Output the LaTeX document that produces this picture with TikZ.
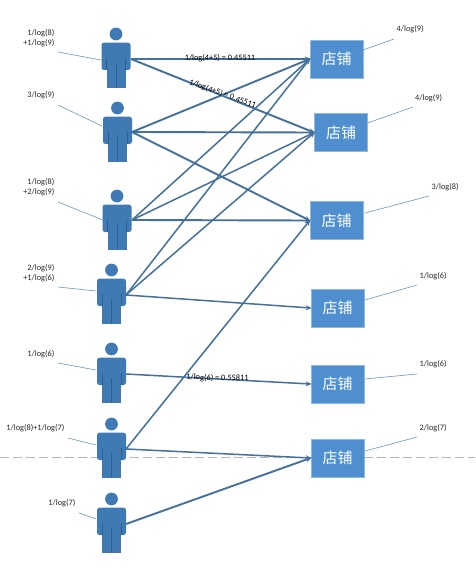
\documentclass[tikz,border=0pt]{standalone}
\usepackage{fontspec}
\setmainfont{Carlito}
\newfontfamily\cjkfont{Noto Sans CJK SC}
\usetikzlibrary{arrows.meta}
\definecolor{figblue}{HTML}{3F7AB5}
\definecolor{figline}{HTML}{2F5F8F}
\definecolor{storeblue}{HTML}{4F8FD0}
\definecolor{storeedge}{HTML}{8FB8DE}
\definecolor{edgeblue}{HTML}{44709D}
\definecolor{leadblue}{HTML}{6E96B8}
\definecolor{dashgray}{HTML}{B4B4B4}
\tikzset{
  personfig/.pic={
    \fill[figblue] (0,0) circle[radius=6.4];
    \fill[figblue,rounded corners=2.5pt] (-14.5,36) -- (-14.5,8.7) -- (14.5,8.7) -- (14.5,36) -- cycle;
    \fill[figblue] (-9.5,20) rectangle (9.5,54);
    \draw[figline,line width=0.4pt] (0,29) -- (0,54) (-9.5,24) -- (-9.5,36) (9.5,24) -- (9.5,36);
  },
  storebox/.style={draw=storeedge,line width=0.6pt,fill=storeblue,text=white,minimum width=53pt,minimum height=38pt,inner sep=0pt,font=\cjkfont\fontsize{15}{18}\selectfont},
  linkline/.style={draw=edgeblue,line width=1.9pt,-{Stealth[length=6pt,width=5pt]},shorten >=-1pt},
  steepline/.style={linkline,line width=1.5pt},
  leadline/.style={draw=leadblue,line width=0.6pt},
  lab/.style={text=black!85,inner sep=0pt,font=\fontsize{8.3}{10}\selectfont},
  midlab/.style={lab,text=black},
  cutline/.style={draw=dashgray,line width=0.7pt,dash pattern=on 9pt off 4pt}
}
\begin{document}
\begin{tikzpicture}[x=1pt,y=-1pt]
\useasboundingbox[fill=white] (0,0) rectangle (475,578);
% dashed cut
\coordinate (cutL) at (0,457.5);
\coordinate (cutR) at (475,457.5);
\draw[cutline] (cutL) -- (cutR);
% people
\pic at (116,34) {personfig};
\pic at (117.5,108) {personfig};
\pic at (117,196) {personfig};
\pic at (111.5,270) {personfig};
\pic at (111.5,349) {personfig};
\pic at (111.5,424) {personfig};
\pic at (111.5,499) {personfig};
\coordinate (p1) at (131,59);
\coordinate (p2) at (132,132);
\coordinate (p3) at (132,220);
\coordinate (p4) at (126,295);
\coordinate (p5) at (126,374);
\coordinate (p6) at (126,449);
\coordinate (p7) at (126,524);
% stores
\node[storebox] (s1) at (336.5,59) {店铺};
\node[storebox] (s2) at (341,132.5) {店铺};
\node[storebox] (s3) at (336.5,220.5) {店铺};
\node[storebox] (s4) at (337.5,308) {店铺};
\node[storebox] (s5) at (337.5,384) {店铺};
\node[storebox] (s6) at (337.5,458) {店铺};
% connectors
\draw[linkline] (p1) -- (s1.west);
\draw[linkline] (p1) -- (s2.west);
\draw[linkline] (p2) -- (s1.west);
\draw[linkline] (p2) -- (s2.west);
\draw[linkline] (p2) -- (s3.west);
\draw[steepline] (p3) -- (s1.west);
\draw[steepline] (p3) -- (s2.west);
\draw[linkline] (p3) -- (s3.west);
\draw[steepline] (p4) -- (s1.west);
\draw[steepline] (p4) -- (s2.west);
\draw[steepline] (p4) -- (s4.west);
\draw[steepline] (p5) -- (s5.west);
\draw[steepline] (p6) -- (s3.west);
\draw[steepline] (p6) -- (s6.west);
\draw[linkline] (p7) -- (s6.west);
% connector labels
\node[midlab] (m1) at (220,58) {1/log(4+5) = 0.45511};
\node[midlab,rotate=-20] (m2) at (222.5,94) {1/log(4+5) = 0.45511};
\node[midlab,rotate=-1] (m3) at (217.5,378) {1/log(6) = 0.55811};
% left labels
\node[lab,anchor=east,align=right] (a1) at (54.5,38.5) {1/log(8)\\+1/log(9)};
\node[lab,anchor=east] (a2) at (54.5,95) {3/log(9)};
\node[lab,anchor=east,align=right] (a3) at (54.5,187) {1/log(8)\\+2/log(9)};
\node[lab,anchor=east,align=right] (a4) at (54.5,273) {2/log(9)\\+1/log(6)};
\node[lab,anchor=east] (a5) at (54.5,354) {1/log(6)};
\node[lab,anchor=east] (a6) at (64.5,428) {1/log(8)+1/log(7)};
\node[lab,anchor=east] (a7) at (75.5,503) {1/log(7)};
% right labels
\node[lab,anchor=west] (b1) at (396.5,29.5) {4/log(9)};
\node[lab,anchor=west] (b2) at (415,98.5) {4/log(9)};
\node[lab,anchor=west] (b3) at (431.5,187) {3/log(8)};
\node[lab,anchor=west] (b4) at (419.5,276) {1/log(6)};
\node[lab,anchor=west] (b5) at (419.5,364) {1/log(6)};
\node[lab,anchor=west] (b6) at (419.5,428) {2/log(7)};
% leaders, left
\coordinate (la1) at (58,52); \coordinate (la1e) at (101,60);
\coordinate (la2) at (58,105); \coordinate (la2e) at (102,126);
\coordinate (la3) at (58,202); \coordinate (la3e) at (103,220);
\coordinate (la4) at (58,287); \coordinate (la4e) at (96,291);
\coordinate (la5) at (58,363); \coordinate (la5e) at (96,370);
\coordinate (la6) at (68,438); \coordinate (la6e) at (96,445);
\coordinate (la7) at (79,513); \coordinate (la7e) at (96,519);
\draw[leadline] (la1) -- (la1e);
\draw[leadline] (la2) -- (la2e);
\draw[leadline] (la3) -- (la3e);
\draw[leadline] (la4) -- (la4e);
\draw[leadline] (la5) -- (la5e);
\draw[leadline] (la6) -- (la6e);
\draw[leadline] (la7) -- (la7e);
% leaders, right
\coordinate (lb1) at (394,39); \coordinate (lb1e) at (363,50);
\coordinate (lb2) at (413,107); \coordinate (lb2e) at (367.5,123);
\coordinate (lb3) at (429,196); \coordinate (lb3e) at (365,213);
\coordinate (lb4) at (417,285); \coordinate (lb4e) at (365,300);
\coordinate (lb5) at (417,374); \coordinate (lb5e) at (365,379);
\coordinate (lb6) at (417,437); \coordinate (lb6e) at (365,451);
\draw[leadline] (lb1) -- (lb1e);
\draw[leadline] (lb2) -- (lb2e);
\draw[leadline] (lb3) -- (lb3e);
\draw[leadline] (lb4) -- (lb4e);
\draw[leadline] (lb5) -- (lb5e);
\draw[leadline] (lb6) -- (lb6e);
\end{tikzpicture}
\end{document}
